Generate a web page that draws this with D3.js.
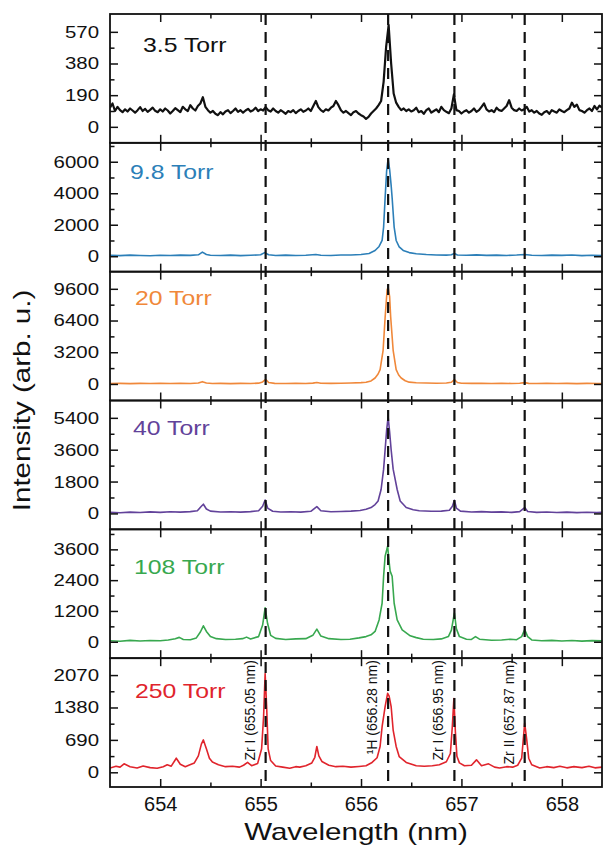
<!DOCTYPE html>
<html>
<head>
<meta charset="utf-8">
<script src="https://cdn.jsdelivr.net/npm/d3@7"></script>
<style>
  body { margin: 0; background: #fff; }
  text { font-family: "Liberation Sans", Arial, sans-serif; fill: #111; }
</style>
</head>
<body>
<svg id="chart" width="603" height="847"></svg>
<script>
// ---- data ----
const pressures = ['3.5 Torr', '9.8 Torr', '20 Torr', '40 Torr', '108 Torr', '250 Torr'];
const colors = ['#111111', '#2c7fb8', '#f0883a', '#62429a', '#38a84f', '#e0242c'];

const yRanges = [[-96, 677], [-980, 7200], [-1670, 11330], [-900, 6380], [-640, 4380], [-313, 2430]];
const yTicks = [
  [0, 190, 380, 570],
  [0, 2000, 4000, 6000],
  [0, 3200, 6400, 9600],
  [0, 1800, 3600, 5400],
  [0, 1200, 2400, 3600],
  [0, 690, 1380, 2070]
];
const xTicks = [654, 655, 656, 657, 658];
const xMinor = [654.5, 655.5, 656.5, 657.5];

// reference lines (drawn at the observed peaks) and their labels
const lineWl = [655.05, 656.27, 656.93, 657.63];
const lineLabels = ['Zr I (655.05 nm)', '\u00B9H (656.28 nm)', 'Zr I (656.95 nm)', 'Zr II (657.87 nm)'];

// 3.5 Torr, sampled every 0.025 nm from 653.5 nm
const wl35 = d3.range(197).map(i => +(653.5 + i * 0.025).toFixed(3));
const int35 = [
  115, 140, 95, 120, 100, 88, 105, 92, 110, 98, 85, 100, 118, 95, 108, 90, 102, 115, 96, 88,
  105, 92, 110, 98, 80, 95, 112, 100, 88, 120, 105, 95, 130, 110, 98, 125, 140, 178, 120, 100,
  85, 95, 78, 70, 88, 75, 92, 100, 82, 95, 110, 90, 100, 85, 98, 108, 92, 100, 115, 95,
  105, 98, 118, 100, 92, 110, 95, 85, 100, 90, 78, 95, 88, 100, 82, 95, 105, 90, 98, 110,
  95, 125, 155, 118, 100, 90, 105, 98, 115, 125, 155, 130, 100, 85, 95, 82, 70, 88, 95, 80,
  70, 62, 48, 60, 80, 95, 110, 130, 155, 270, 480, 610, 380, 200, 145, 120, 100, 110, 95, 105,
  92, 100, 115, 88, 95, 78, 100, 110, 85, 95, 105, 88, 120, 100, 90, 82, 110, 195, 100, 95,
  80, 92, 100, 85, 95, 110, 90, 100, 120, 140, 105, 92, 100, 88, 115, 100, 95, 110, 125, 160,
  115, 100, 95, 110, 98, 105, 120, 92, 100, 85, 95, 80, 72, 88, 95, 78, 100, 92, 85, 105,
  95, 88, 100, 110, 145, 120, 133, 100, 95, 85, 100, 110, 95, 125, 105, 127, 115
];
const spec35 = wl35.map((w, i) => [w, int35[i]]);

// [wavelength, intensity]
const spec98 = [
  [653.5, 60], [653.6, 40], [653.7, 70], [653.8, 50], [653.9, 30], [654.0, 60], [654.1, 45], [654.2, 70],
  [654.3, 55], [654.38, 90], [654.42, 260], [654.46, 110], [654.5, 60], [654.6, 50], [654.7, 70], [654.8, 40],
  [654.9, 60], [655.0, 90], [655.04, 230], [655.08, 90], [655.15, 50], [655.25, 70], [655.35, 45], [655.45, 60],
  [655.55, 110], [655.6, 60], [655.7, 50], [655.8, 75], [655.9, 80], [656.0, 110], [656.08, 170], [656.14, 360],
  [656.18, 620], [656.21, 1000], [656.225, 1850], [656.24, 3700], [656.255, 5400], [656.27, 6200], [656.285, 5500],
  [656.3, 4500], [656.31, 3700], [656.33, 1850], [656.35, 1000], [656.38, 600], [656.42, 370], [656.48, 230],
  [656.55, 160], [656.65, 110], [656.75, 80], [656.85, 70], [656.9, 90], [656.93, 180], [656.96, 80], [657.05, 60],
  [657.15, 85], [657.25, 55], [657.35, 70], [657.45, 50], [657.55, 75], [657.63, 110], [657.7, 60], [657.8, 45],
  [657.9, 70], [658.0, 55], [658.1, 75], [658.2, 40], [658.3, 65], [658.4, 50]
];
const spec20 = [
  [653.5, 40], [653.6, 60], [653.7, 30], [653.8, 55], [653.9, 40], [654.0, 70], [654.1, 45], [654.2, 60],
  [654.3, 50], [654.38, 90], [654.42, 230], [654.46, 100], [654.52, 50], [654.6, 60], [654.7, 35], [654.8, 55],
  [654.9, 45], [654.98, 80], [655.02, 200], [655.05, 460], [655.08, 150], [655.14, 60], [655.25, 50], [655.35, 65],
  [655.45, 40], [655.52, 80], [655.56, 150], [655.6, 70], [655.7, 55], [655.8, 75], [655.9, 100], [656.0, 130],
  [656.05, 170], [656.1, 300], [656.14, 600], [656.17, 1000], [656.19, 1450], [656.22, 3400], [656.24, 6700],
  [656.26, 9500], [656.27, 9750], [656.285, 8800], [656.295, 6800], [656.32, 3400], [656.35, 1450], [656.375, 900],
  [656.4, 600], [656.44, 320], [656.48, 180], [656.55, 120], [656.65, 90], [656.75, 70], [656.85, 90], [656.9, 170],
  [656.93, 440], [656.96, 150], [657.0, 70], [657.1, 55], [657.2, 75], [657.3, 45], [657.4, 60], [657.5, 50],
  [657.58, 70], [657.63, 130], [657.67, 60], [657.75, 40], [657.85, 65], [657.95, 45], [658.05, 60], [658.15, 35],
  [658.25, 55], [658.35, 40], [658.4, 50]
];
const spec40 = [
  [653.5, 60], [653.6, 40], [653.7, 75], [653.8, 50], [653.9, 85], [654.0, 60], [654.1, 90], [654.2, 70],
  [654.3, 100], [654.37, 150], [654.41, 400], [654.43, 520], [654.46, 250], [654.5, 130], [654.6, 80], [654.7, 95],
  [654.8, 70], [654.9, 100], [654.98, 150], [655.02, 400], [655.045, 760], [655.07, 300], [655.12, 120], [655.2, 80],
  [655.3, 90], [655.4, 70], [655.5, 120], [655.56, 380], [655.6, 150], [655.7, 90], [655.8, 110], [655.9, 130],
  [655.99, 160], [656.05, 230], [656.1, 330], [656.14, 500], [656.17, 700], [656.2, 1350], [656.225, 2500],
  [656.24, 3600], [656.255, 4700], [656.27, 5450], [656.285, 4600], [656.3, 3600], [656.32, 2500], [656.36, 1350],
  [656.39, 700], [656.45, 330], [656.52, 210], [656.58, 150], [656.7, 120], [656.8, 130], [656.88, 180], [656.91, 400],
  [656.93, 740], [656.95, 300], [656.99, 130], [657.1, 80], [657.2, 100], [657.3, 70], [657.4, 85], [657.5, 60],
  [657.58, 100], [657.63, 330], [657.66, 110], [657.75, 60], [657.85, 80], [657.95, 50], [658.05, 70], [658.15, 45],
  [658.25, 65], [658.35, 50], [658.4, 60]
];
const spec108 = [
  [653.5, 40], [653.6, 20], [653.7, 55], [653.8, 30], [653.9, 50], [654.0, 40], [654.08, 70], [654.15, 120],
  [654.19, 170], [654.23, 90], [654.3, 80], [654.36, 150], [654.4, 380], [654.43, 620], [654.46, 400], [654.5, 200],
  [654.56, 120], [654.65, 90], [654.75, 100], [654.82, 120], [654.86, 180], [654.9, 110], [654.98, 200], [655.02, 650],
  [655.045, 1320], [655.07, 700], [655.1, 250], [655.15, 130], [655.25, 90], [655.35, 110], [655.45, 120], [655.52, 250],
  [655.56, 490], [655.6, 220], [655.68, 120], [655.8, 90], [655.89, 100], [655.98, 150], [656.05, 200], [656.1, 270],
  [656.14, 400], [656.18, 850], [656.21, 1500], [656.225, 2550], [656.24, 3330], [656.265, 3720], [656.28, 3100],
  [656.29, 2750], [656.31, 2550], [656.33, 1500], [656.36, 850], [656.41, 460], [656.49, 230], [656.55, 160],
  [656.62, 100], [656.72, 90], [656.8, 110], [656.87, 200], [656.9, 450], [656.93, 1120], [656.95, 500], [656.98, 200],
  [657.05, 100], [657.1, 90], [657.14, 200], [657.18, 100], [657.3, 60], [657.4, 70], [657.49, 100], [657.55, 80],
  [657.6, 200], [657.63, 470], [657.66, 200], [657.7, 70], [657.8, 40], [657.9, 55], [658.0, 30], [658.1, 50],
  [658.2, 25], [658.3, 45], [658.4, 35]
];
const spec250 = [
  [653.5, 90], [653.56, 130], [653.6, 110], [653.64, 180], [653.7, 120], [653.77, 90], [653.83, 135], [653.9, 100],
  [653.97, 85], [654.03, 120], [654.07, 160], [654.11, 130], [654.16, 300], [654.2, 170], [654.25, 120], [654.29, 155],
  [654.34, 200], [654.38, 350], [654.41, 600], [654.43, 690], [654.46, 500], [654.49, 300], [654.52, 220], [654.58, 160],
  [654.65, 120], [654.72, 130], [654.79, 110], [654.83, 150], [654.87, 210], [654.91, 140], [654.97, 185], [655.01, 500],
  [655.03, 1200], [655.045, 2100], [655.06, 1400], [655.075, 500], [655.1, 250], [655.15, 135], [655.22, 110],
  [655.29, 85], [655.35, 120], [655.39, 110], [655.45, 140], [655.51, 200], [655.54, 320], [655.56, 550], [655.58, 350],
  [655.61, 230], [655.68, 150], [655.75, 120], [655.82, 130], [655.9, 110], [655.98, 125], [656.05, 140], [656.11, 210],
  [656.16, 310], [656.19, 550], [656.21, 970], [656.24, 1400], [656.265, 1680], [656.28, 1620], [656.3, 1400],
  [656.32, 900], [656.35, 550], [656.38, 335], [656.45, 210], [656.55, 140], [656.63, 130], [656.71, 140], [656.78, 160],
  [656.85, 225], [656.89, 400], [656.91, 1000], [656.925, 1570], [656.94, 850], [656.955, 340], [656.98, 200],
  [657.03, 140], [657.1, 150], [657.15, 265], [657.2, 140], [657.27, 180], [657.33, 110], [657.38, 90], [657.45, 120],
  [657.51, 110], [657.56, 150], [657.6, 300], [657.63, 1050], [657.65, 700], [657.67, 300], [657.7, 160], [657.78, 90],
  [657.85, 120], [657.92, 100], [657.98, 130], [658.05, 95], [658.12, 120], [658.2, 100], [658.27, 130], [658.33, 95],
  [658.4, 110]
];
const spectra = [spec35, spec98, spec20, spec40, spec108, spec250];

// ---- layout ----
const plotLeft = 110, plotRight = 602, plotTop = 14, plotBottom = 787;
const panelH = (plotBottom - plotTop) / pressures.length;
const labelX = [143, 130, 135, 133, 134, 135];
const labelDy = [38, 36.5, 33.5, 34, 45, 40];

const svg = d3.select('#chart');

const x = d3.scaleLinear().domain([653.5, 658.4]).range([plotLeft, plotRight]);

function widen(sel, k) {
  sel.each(function () {
    const w = this.getComputedTextLength();
    this.setAttribute('textLength', w * k);
    this.setAttribute('lengthAdjust', 'spacingAndGlyphs');
  });
}

pressures.forEach(function (name, i) {
  const y0 = plotTop + i * panelH;
  const y1 = y0 + panelH;
  const y = d3.scaleLinear().domain(yRanges[i]).range([y1, y0]);
  const g = svg.append('g');

  g.append('clipPath').attr('id', 'clip' + i)
    .append('rect').attr('x', plotLeft).attr('y', y0).attr('width', plotRight - plotLeft).attr('height', panelH);

  g.append('path')
    .datum(spectra[i])
    .attr('clip-path', 'url(#clip' + i + ')')
    .attr('fill', 'none')
    .attr('stroke', colors[i])
    .attr('stroke-width', i == 0 ? 2.2 : 1.6)
    .attr('stroke-linejoin', 'round')
    .attr('d', d3.line()
      .x(function (d) { return x(d[0]); })
      .y(function (d) { return y(d[1]); }));

  // y axes (ticks inward)
  const step = yTicks[i][1] - yTicks[i][0];
  const yMinor = yTicks[i].map(v => v + step / 2)
    .filter(v => y(v) > y0 + 2);
  const yl = g.append('g').attr('transform', 'translate(' + plotLeft + ',0)')
    .call(d3.axisLeft(y).tickValues(yTicks[i]).tickSize(-8).tickPadding(11).tickFormat(d3.format('d')));
  yl.append('g').call(d3.axisLeft(y).tickValues(yMinor).tickSize(-4.5).tickFormat(''));
  const yr = g.append('g').attr('transform', 'translate(' + plotRight + ',0)')
    .call(d3.axisRight(y).tickValues(yTicks[i]).tickSize(-8).tickFormat(''));
  yr.append('g').call(d3.axisRight(y).tickValues(yMinor).tickSize(-4.5).tickFormat(''));
  yl.selectAll('text').attr('font-size', 17).attr('fill', '#111').call(widen, 1.2);

  // x axes (ticks inward, top and bottom of every panel)
  const xb = g.append('g').attr('transform', 'translate(0,' + y1 + ')')
    .call(d3.axisBottom(x).tickValues(xTicks).tickSize(-8).tickPadding(10)
      .tickFormat(i == pressures.length - 1 ? d3.format('d') : ''));
  xb.append('g').call(d3.axisBottom(x).tickValues(xMinor).tickSize(-4.5).tickFormat(''));
  xb.selectAll('text').attr('font-size', 20).attr('fill', '#111');
  const xt = g.append('g').attr('transform', 'translate(0,' + y0 + ')')
    .call(d3.axisTop(x).tickValues(xTicks).tickSize(-8).tickFormat(''));
  xt.append('g').call(d3.axisTop(x).tickValues(xMinor).tickSize(-4.5).tickFormat(''));

  g.selectAll('.domain').remove();
  g.selectAll('.tick line').attr('stroke', '#111').attr('stroke-width', 1.5);

  g.append('rect')
    .attr('x', plotLeft).attr('y', y0)
    .attr('width', plotRight - plotLeft).attr('height', panelH)
    .attr('fill', 'none').attr('stroke', '#111').attr('stroke-width', 1.8);

  g.append('text')
    .attr('x', labelX[i]).attr('y', y0 + labelDy[i])
    .attr('font-size', 21)
    .style('fill', colors[i])
    .text(name)
    .call(widen, 1.18);
});

// dashed reference lines across all panels
svg.selectAll('.ref')
  .data(lineWl)
  .enter()
  .append('line')
  .attr('class', 'ref')
  .attr('x1', d => x(d)).attr('x2', d => x(d))
  .attr('y1', plotTop).attr('y2', plotBottom)
  .attr('stroke', '#111')
  .attr('stroke-width', 2.2)
  .attr('stroke-dasharray', '11,7');

// line labels in the bottom panel, hanging from just under its top edge
const lastTop = plotTop + (pressures.length - 1) * panelH;
svg.selectAll('.ref-label')
  .data(lineLabels)
  .enter()
  .append('text')
  .attr('class', 'ref-label')
  .attr('transform', (d, i) => 'translate(' + (x(lineWl[i]) - 11) + ',' + (lastTop + 2) + ') rotate(-90)')
  .attr('text-anchor', 'end')
  .attr('font-size', 14)
  .text(d => d);

// axis titles
svg.append('text')
  .attr('x', (plotLeft + plotRight) / 2).attr('y', 840)
  .attr('text-anchor', 'middle')
  .attr('font-size', 24)
  .text('Wavelength (nm)')
  .call(widen, 1.23);

svg.append('text')
  .attr('transform', 'translate(30,' + ((plotTop + plotBottom) / 2) + ') rotate(-90)')
  .attr('text-anchor', 'middle')
  .attr('font-size', 24)
  .text('Intensity (arb. u.)')
  .call(widen, 1.23);
</script>
</body>
</html>
